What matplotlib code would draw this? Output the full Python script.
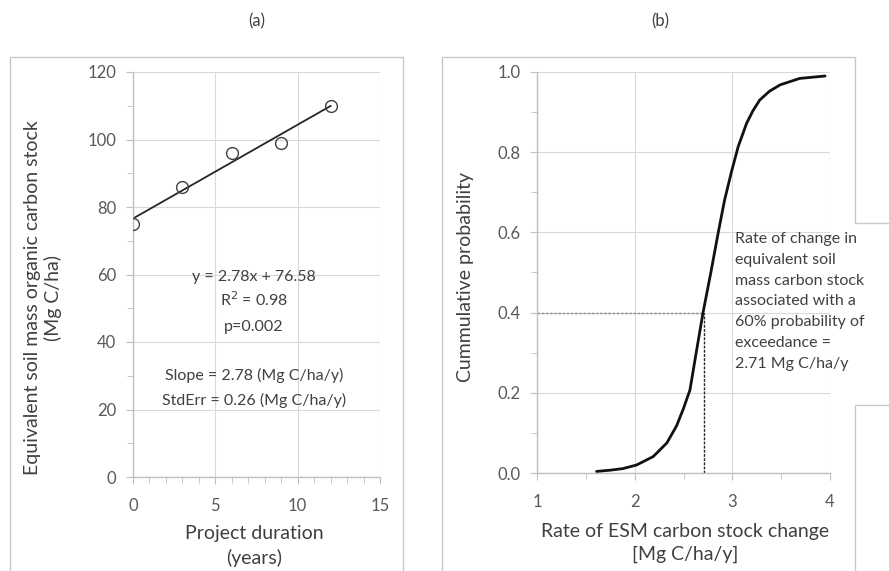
import matplotlib
matplotlib.use("Agg")
import matplotlib.pyplot as plt
from matplotlib.lines import Line2D
from matplotlib.ticker import MultipleLocator, FormatStrFormatter
import numpy as np

plt.rcParams['font.family'] = ['Lato', 'DejaVu Sans']

# Panel (a) data
duration = [0, 3, 6, 9, 12]
soc_stock = [75, 86, 96, 99, 110]
slope, intercept = 2.78, 76.58

# Panel (b) data (cumulative distribution)
rate = [1.61, 1.75, 1.88, 2.02, 2.19, 2.33, 2.43, 2.50, 2.566, 2.63, 2.70, 2.78,
        2.856, 2.92, 2.99, 3.06, 3.146, 3.21, 3.28, 3.38, 3.49, 3.69, 3.95]
cum_prob = [0.004, 0.007, 0.011, 0.02, 0.041, 0.075, 0.118, 0.161, 0.207, 0.30, 0.40, 0.50,
            0.60, 0.68, 0.75, 0.814, 0.872, 0.903, 0.93, 0.952, 0.968, 0.984, 0.99]
rate_60 = 2.71
prob_level = 0.4

W, H = 889, 571
fig = plt.figure(figsize=(W/100, H/100), dpi=100)

def ax_rect(l, r, t, b):
    return [l/W, 1 - b/H, (r-l)/W, (b-t)/H]

def fx(x):
    return x / W

def fy(y):
    return 1 - y / H

tick_col = '#595959'
lab_col = '#404040'
grid_col = '#d9d9d9'
axis_col = '#bfbfbf'
txt_col = '#404040'

def style(ax):
    for s in ['top', 'right']:
        ax.spines[s].set_visible(False)
    for s in ['left', 'bottom']:
        ax.spines[s].set_color(axis_col)
        ax.spines[s].set_linewidth(1)
    ax.grid(True, which='major', color=grid_col, lw=0.8)
    ax.set_axisbelow(True)
    ax.tick_params(which='both', direction='out', color=axis_col, labelcolor=tick_col, labelsize=12)
    ax.tick_params(which='major', length=5)
    ax.tick_params(which='minor', length=4)
    ax.tick_params(axis='y', pad=7)
    ax.tick_params(axis='x', pad=10)

# ---- Panel (a)
ax1 = fig.add_axes(ax_rect(133, 380, 72, 477))
xl = np.array([min(duration), max(duration)])
ax1.plot(xl, slope*xl + intercept, color='#262626', lw=1.3, zorder=2)
ax1.plot(duration, soc_stock, 'o', mfc='none', mec='#404040', ms=8.5, mew=1.0, zorder=3)
ax1.set_xlim(0, 15)
ax1.set_ylim(0, 120)
ax1.xaxis.set_major_locator(MultipleLocator(5))
ax1.xaxis.set_minor_locator(MultipleLocator(1))
ax1.yaxis.set_major_locator(MultipleLocator(20))
ax1.yaxis.set_minor_locator(MultipleLocator(10))
style(ax1)

fig.text(fx(254), fy(546), 'Project duration\n(years)', ha='center', va='center',
         fontsize=14, color=lab_col, linespacing=1.45)
fig.text(fx(43), fy(298), 'Equivalent soil mass organic carbon stock\n(Mg C/ha)', ha='center',
         va='center', rotation=90, fontsize=14, color=lab_col, linespacing=1.2)

for txt, yy in [('y = 2.78x + 76.58', 277), ('R$^2$ = 0.98', 300), ('p=0.002', 327),
                ('Slope = 2.78 (Mg C/ha/y)', 375), ('StdErr = 0.26 (Mg C/ha/y)', 400)]:
    fig.text(fx(254), fy(yy), txt, ha='center', va='center', fontsize=11.5, color=txt_col)

# ---- Panel (b)
ax2 = fig.add_axes(ax_rect(537, 830, 72, 473))
ax2.plot(rate, cum_prob, color='#111111', lw=2.0, solid_capstyle='round',
         solid_joinstyle='round', zorder=3)
ax2.plot([1, rate_60], [prob_level, prob_level], color='#8c8c8c', lw=1.0, ls=(0, (2, 1)), zorder=2)
ax2.plot([rate_60, rate_60], [0, prob_level], color='#262626', lw=1.0, ls=(0, (2, 1)), zorder=2)
ax2.set_xlim(1, 4)
ax2.set_ylim(0, 1.0)
ax2.xaxis.set_major_locator(MultipleLocator(1))
ax2.xaxis.set_minor_locator(MultipleLocator(0.5))
ax2.yaxis.set_major_locator(MultipleLocator(0.2))
ax2.yaxis.set_minor_locator(MultipleLocator(0.1))
ax2.yaxis.set_major_formatter(FormatStrFormatter('%.1f'))
style(ax2)

fig.text(fx(685), fy(543), 'Rate of ESM carbon stock change\n[Mg C/ha/y]', ha='center', va='center',
         fontsize=14, color=lab_col, linespacing=1.45)
fig.text(fx(465), fy(277), 'Cummulative probability', ha='center', va='center', rotation=90,
         fontsize=14, color=lab_col)

fig.text(fx(735), fy(232),
         'Rate of change in\nequivalent soil\nmass carbon stock\nassociated with a\n60% probability of\nexceedance =\n2.71 Mg C/ha/y',
         ha='left', va='top', fontsize=11.5, color=txt_col, linespacing=1.62)

# titles
fig.text(fx(257), fy(21), '(a)', ha='center', va='center', fontsize=12, color=txt_col)
fig.text(fx(660), fy(21), '(b)', ha='center', va='center', fontsize=12, color=txt_col)

# frames
fc = '#c8c8c8'
def fl(xs, ys):
    fig.add_artist(Line2D([fx(x) for x in xs], [fy(y) for y in ys], color=fc, lw=1.0))
fl([10, 10, 403, 403], [575, 57, 57, 575])
fl([442, 442, 855, 855, 892], [575, 57, 57, 223, 223])
fl([892, 855, 855], [405, 405, 575])

fig.savefig('out.png', dpi=100, facecolor='white')
